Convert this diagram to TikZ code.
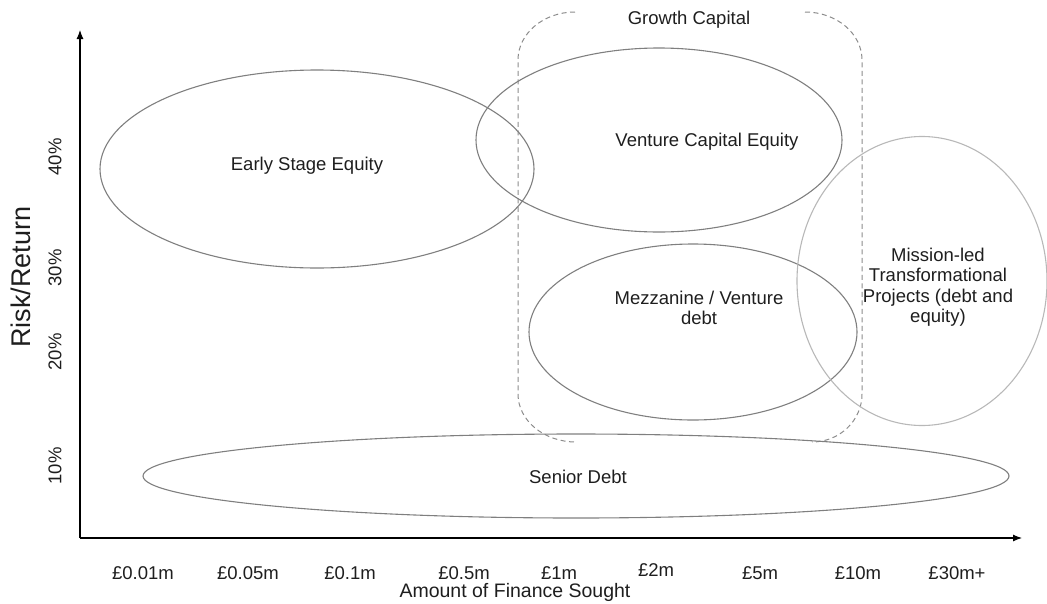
\documentclass[tikz,border=0pt]{standalone}
\usepackage{fontspec}
\setmainfont{Liberation Sans}
\usetikzlibrary{shapes.geometric,arrows.meta}
\definecolor{ellgray}{HTML}{7F7F7F}
\definecolor{lightgray2}{HTML}{B8B8B8}
\definecolor{dashgray}{HTML}{8C8C8C}
\definecolor{txt}{HTML}{1E1E1E}
\begin{document}
\begin{tikzpicture}[x=1pt,y=-1pt,
  oval/.style={ellipse, draw=ellgray, line width=1.1pt, inner sep=0pt},
  lbl/.style={text=txt, font=\fontsize{18.5}{20.5}\selectfont, align=center, inner sep=0pt},
  tick/.style={text=txt, font=\fontsize{18.5}{20.5}\selectfont, inner sep=0pt},
  axis/.style={draw=black, line width=1.1pt, -{Latex[length=9pt,width=7pt]}},
  bracket/.style={draw=dashgray, line width=1pt, dash pattern=on 5pt off 3.5pt}
]
\useasboundingbox (0,0) rectangle (1047,603);
% origin and axis ends
\coordinate (O) at (80,538);
\coordinate (ytop) at (80,30);
\coordinate (xend) at (1022,538);
\draw[axis] (O) -- (ytop);
\draw[axis] (O) -- (xend);

% growth capital brackets
\draw[bracket] (575,12) arc[start angle=270,end angle=180,x radius=57,y radius=48]
  -- (518,394) arc[start angle=180,end angle=90,x radius=58,y radius=48];
\draw[bracket] (805,12) arc[start angle=270,end angle=360,x radius=57,y radius=48]
  -- (862,394) arc[start angle=0,end angle=90,x radius=50,y radius=48];
\node[lbl] (gc) at (689,20) {Growth Capital};

% ellipses
\node[oval, minimum width=434pt, minimum height=198pt] (ese) at (317,169) {};
\node[oval, minimum width=366pt, minimum height=184pt] (vce) at (659,140) {};
\node[oval, minimum width=328pt, minimum height=176pt] (mez) at (693,332) {};
\node[oval, draw=lightgray2, minimum width=250pt, minimum height=289pt] (mis) at (922,281) {};
\node[oval, minimum width=866pt, minimum height=84pt] (sen) at (576,476) {};

% ellipse texts
\node[lbl] (eset) at (307,166) {Early Stage Equity};
\node[lbl] (vcet) at (707,142) {Venture Capital Equity};
\node[lbl] (mezt) at (699,308) {Mezzanine / Venture\\debt};
\node[lbl] (mist) at (938,287) {Mission-led\\Transformational\\Projects (debt and\\equity)};
\node[lbl] (sent) at (578,477) {Senior Debt};

% y tick labels
\node[tick, rotate=90] (y40) at (55,157) {40\%};
\node[tick, rotate=90] (y30) at (55,268) {30\%};
\node[tick, rotate=90] (y20) at (55,352) {20\%};
\node[tick, rotate=90] (y10) at (55,466) {10\%};
\node[text=txt, font=\fontsize{27}{29}\selectfont, rotate=90, inner sep=0pt] (ylab) at (21,277) {Risk/Return};

% x tick labels
\node[tick] (x1) at (143,573) {£0.01m};
\node[tick] (x2) at (248,573) {£0.05m};
\node[tick] (x3) at (350,573) {£0.1m};
\node[tick] (x4) at (464,573) {£0.5m};
\node[tick] (x5) at (559,573) {£1m};
\node[tick] (x6) at (656,570) {£2m};
\node[tick] (x7) at (760,573) {£5m};
\node[tick] (x8) at (858,573) {£10m};
\node[tick] (x9) at (957,573) {£30m+};
\node[text=txt, font=\fontsize{19.5}{22}\selectfont, inner sep=0pt] (xlab) at (515,592) {Amount of Finance Sought};
\end{tikzpicture}
\end{document}
